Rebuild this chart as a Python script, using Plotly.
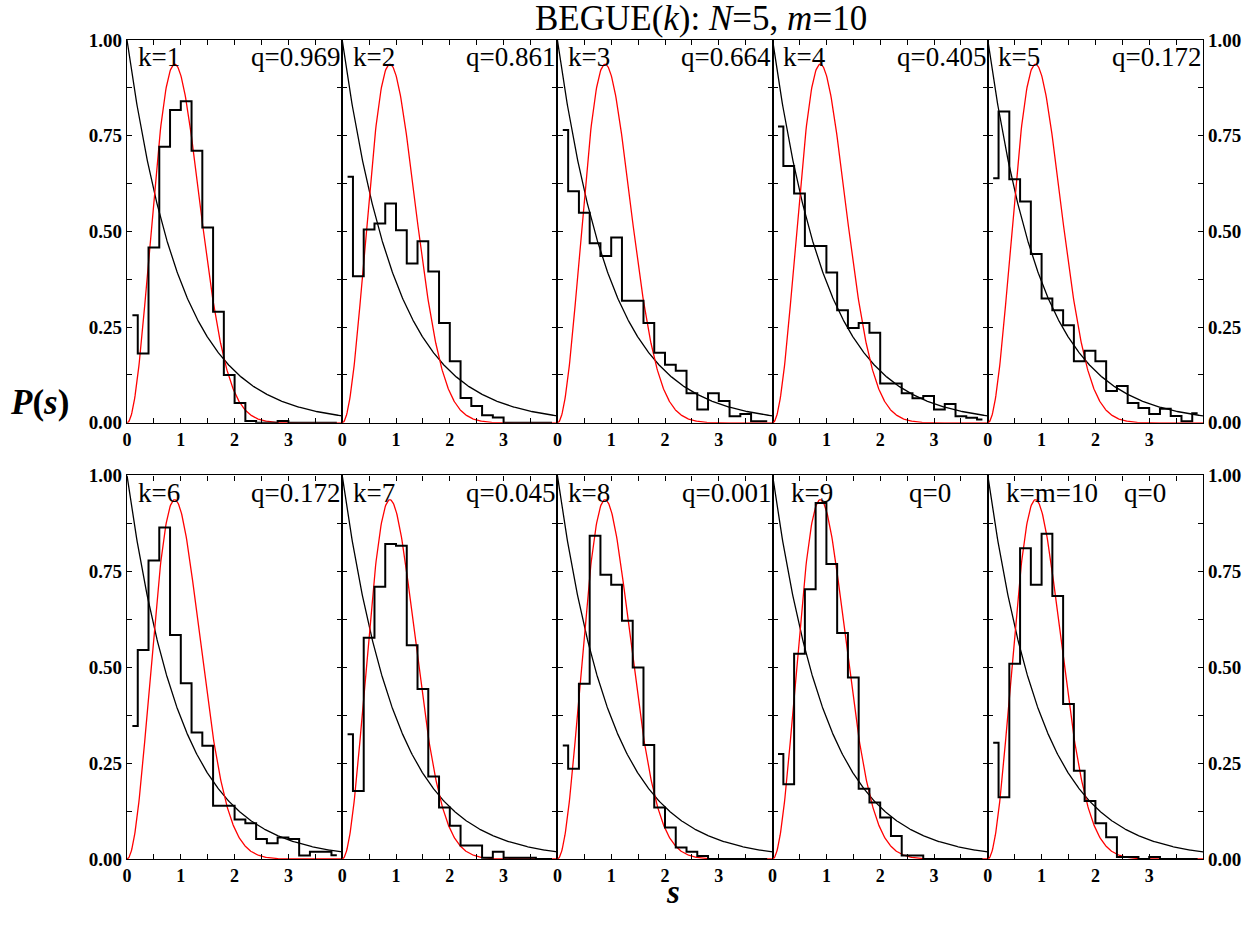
import numpy as np
import plotly.graph_objects as go

# ---------------- data ----------------
bin_centers = [0.1, 0.3, 0.5, 0.7, 0.9, 1.1, 1.3, 1.5, 1.7, 1.9,
               2.1, 2.3, 2.5, 2.7, 2.9, 3.1, 3.3, 3.5, 3.7, 3.9]

hist_k1 = [0.281, 0.181, 0.458, 0.721, 0.817, 0.840, 0.711, 0.510, 0.290, 0.125,
           0.052, 0.005, 0.0, 0.0, 0.005, 0.0, 0.0, 0.0, 0.0, 0.0]
hist_k2 = [0.643, 0.383, 0.505, 0.521, 0.573, 0.503, 0.416, 0.474, 0.395, 0.261,
           0.161, 0.065, 0.044, 0.020, 0.014, 0.0, 0.0, 0.0, 0.0, 0.0]
hist_k3 = [0.765, 0.605, 0.549, 0.469, 0.436, 0.484, 0.319, 0.319, 0.261, 0.183,
           0.152, 0.136, 0.077, 0.035, 0.077, 0.057, 0.017, 0.023, 0.004, 0.004]
hist_k4 = [0.774, 0.671, 0.599, 0.462, 0.462, 0.393, 0.294, 0.248, 0.261, 0.235,
           0.103, 0.103, 0.077, 0.064, 0.070, 0.035, 0.049, 0.017, 0.013, 0.009]
hist_k5 = [0.639, 0.813, 0.636, 0.578, 0.441, 0.325, 0.294, 0.255, 0.161, 0.188,
           0.161, 0.083, 0.096, 0.052, 0.039, 0.023, 0.037, 0.018, 0.004, 0.025]
hist_k6 = [0.347, 0.545, 0.778, 0.864, 0.584, 0.458, 0.330, 0.295, 0.139, 0.139,
           0.103, 0.093, 0.052, 0.041, 0.056, 0.052, 0.009, 0.019, 0.019, 0.010]
hist_k7 = [0.325, 0.177, 0.577, 0.710, 0.821, 0.817, 0.557, 0.443, 0.215, 0.134,
           0.087, 0.035, 0.035, 0.003, 0.019, 0.003, 0.003, 0.003, 0.0, 0.0]
hist_k8 = [0.296, 0.235, 0.457, 0.843, 0.741, 0.715, 0.621, 0.499, 0.297, 0.134,
           0.082, 0.030, 0.019, 0.008, 0.0, 0.0, 0.0, 0.0, 0.0, 0.0]
hist_k9 = [0.274, 0.195, 0.535, 0.703, 0.928, 0.769, 0.589, 0.473, 0.183, 0.147,
           0.108, 0.060, 0.009, 0.009, 0.0, 0.0, 0.0, 0.0, 0.0, 0.0]
hist_k10 = [0.303, 0.161, 0.509, 0.810, 0.715, 0.848, 0.686, 0.404, 0.230, 0.151,
            0.093, 0.057, 0.005, 0.005, 0.0, 0.005, 0.0, 0.0, 0.0, 0.0]

k_labels = ["k=1", "k=2", "k=3", "k=4", "k=5", "k=6", "k=7", "k=8", "k=9", "k=m=10"]
q_labels = ["q=0.969", "q=0.861", "q=0.664", "q=0.405", "q=0.172",
            "q=0.172", "q=0.045", "q=0.001", "q=0", "q=0"]

x_tick_vals = [0, 1, 2, 3]
x_tick_text = ["0", "1", "2", "3"]
y_tick_vals = [0.0, 0.25, 0.5, 0.75, 1.0]
y_tick_text = ["0.00", "0.25", "0.50", "0.75", "1.00"]

histograms = [hist_k1, hist_k2, hist_k3, hist_k4, hist_k5,
              hist_k6, hist_k7, hist_k8, hist_k9, hist_k10]

# theoretical reference curves (Poisson and GUE Wigner surmise)
s = np.linspace(0, 4, 401)
poisson = np.exp(-s)
gue = (32 / np.pi ** 2) * s ** 2 * np.exp(-4 * s ** 2 / np.pi)

# ---------------- layout ----------------
W, H = 1260, 932
L, T = 127, 40
RIGHT_EDGE, TOP_ROW_BOTTOM, BOT_ROW_TOP, BOTTOM_EDGE = 1202.7, 422.7, 475.3, 858.7
R = W - RIGHT_EDGE
B = H - BOTTOM_EDGE
pw = W - L - R
ph = H - T - B
top_dom = [(BOTTOM_EDGE - TOP_ROW_BOTTOM) / ph, 1.0]
bot_dom = [0.0, (BOTTOM_EDGE - BOT_ROW_TOP) / ph]

FONT = "Liberation Serif, Times New Roman, serif"

fig = go.Figure()
layout = dict(
    width=W, height=H,
    margin=dict(l=L, r=R, t=T, b=B),
    paper_bgcolor="white", plot_bgcolor="white",
    showlegend=False,
    font=dict(family=FONT, color="black"),
)

annotations = []
for i in range(10):
    n = i + 1
    row = i // 5
    col = i % 5
    xa = "x" if n == 1 else f"x{n}"
    ya = "y" if n == 1 else f"y{n}"
    xkey = "xaxis" if n == 1 else f"xaxis{n}"
    ykey = "yaxis" if n == 1 else f"yaxis{n}"

    fig.add_trace(go.Scatter(x=s, y=poisson, mode="lines",
                             line=dict(color="black", width=1.3),
                             xaxis=xa, yaxis=ya, hoverinfo="skip"))
    fig.add_trace(go.Scatter(x=s, y=gue, mode="lines",
                             line=dict(color="red", width=1.3),
                             xaxis=xa, yaxis=ya, hoverinfo="skip"))
    fig.add_trace(go.Scatter(x=bin_centers, y=histograms[i], mode="lines",
                             line=dict(color="black", width=2, shape="hvh"),
                             xaxis=xa, yaxis=ya, hoverinfo="skip"))

    layout[xkey] = dict(
        domain=[col / 5, (col + 1) / 5],
        range=[0, 4], anchor=ya,
        showline=True, linecolor="black", linewidth=1.2, mirror="ticks",
        ticks="inside", ticklen=5, tickwidth=1, tickcolor="black",
        tickmode="array", tickvals=x_tick_vals, ticktext=x_tick_text,
        minor=dict(tickmode="array", tickvals=[0.5, 1.5, 2.5, 3.5],
                   ticks="inside", ticklen=5, tickcolor="black"),
        tickfont=dict(family=FONT, size=18, color="black", weight="bold"),
        showgrid=False, zeroline=False, fixedrange=True, automargin=False,
    )
    side = "right" if col == 4 else "left"
    layout[ykey] = dict(
        domain=top_dom if row == 0 else bot_dom,
        range=[0, 1], anchor=xa, side=side,
        showline=True, linecolor="black", linewidth=1.2, mirror="ticks",
        ticks="inside", ticklen=5, tickwidth=1, tickcolor="black",
        tickmode="array", tickvals=y_tick_vals, ticktext=y_tick_text,
        minor=dict(tickmode="array", tickvals=[0.125, 0.375, 0.625, 0.875],
                   ticks="inside", ticklen=5, tickcolor="black"),
        showticklabels=(col == 0 or col == 4),
        tickfont=dict(family=FONT, size=19, color="black", weight="bold"),
        showgrid=False, zeroline=False, fixedrange=True, automargin=False,
    )

    k_x = 0.30 if n >= 9 else 0.16
    annotations.append(dict(x=k_x, y=0.955, xref=xa, yref=ya, text=k_labels[i],
                            showarrow=False, xanchor="left", yanchor="middle",
                            font=dict(family=FONT, size=27, color="black")))
    if n >= 9:
        annotations.append(dict(x=2.5, y=0.955, xref=xa, yref=ya, text=q_labels[i],
                                showarrow=False, xanchor="left", yanchor="middle",
                                font=dict(family=FONT, size=27, color="black")))
    else:
        annotations.append(dict(x=4.0, y=0.955, xref=xa, yref=ya, text=q_labels[i],
                                showarrow=False, xanchor="right", yanchor="middle",
                                font=dict(family=FONT, size=27, color="black")))

annotations.append(dict(x=(701 - L) / pw, y=1 + (T - 19) / ph,
                        xref="paper", yref="paper",
                        text="BEGUE(<i>k</i>): <i>N</i>=5, <i>m</i>=10",
                        showarrow=False, xanchor="center", yanchor="middle",
                        font=dict(family=FONT, size=35, color="black")))
annotations.append(dict(x=(40 - L) / pw, y=(BOTTOM_EDGE - 402) / ph,
                        xref="paper", yref="paper",
                        text="<b><i>P</i>(<i>s</i>)</b>",
                        showarrow=False, xanchor="center", yanchor="middle",
                        font=dict(family=FONT, size=35, color="black")))
annotations.append(dict(x=(673 - L) / pw, y=(BOTTOM_EDGE - 892) / ph,
                        xref="paper", yref="paper",
                        text="<b><i>s</i></b>",
                        showarrow=False, xanchor="center", yanchor="middle",
                        font=dict(family=FONT, size=33, color="black")))
layout["annotations"] = annotations

fig.update_layout(**layout)
fig.write_html("out.html",
               config={"displayModeBar": False},
               post_script="document.body.style.margin='0';document.body.style.padding='0';")
